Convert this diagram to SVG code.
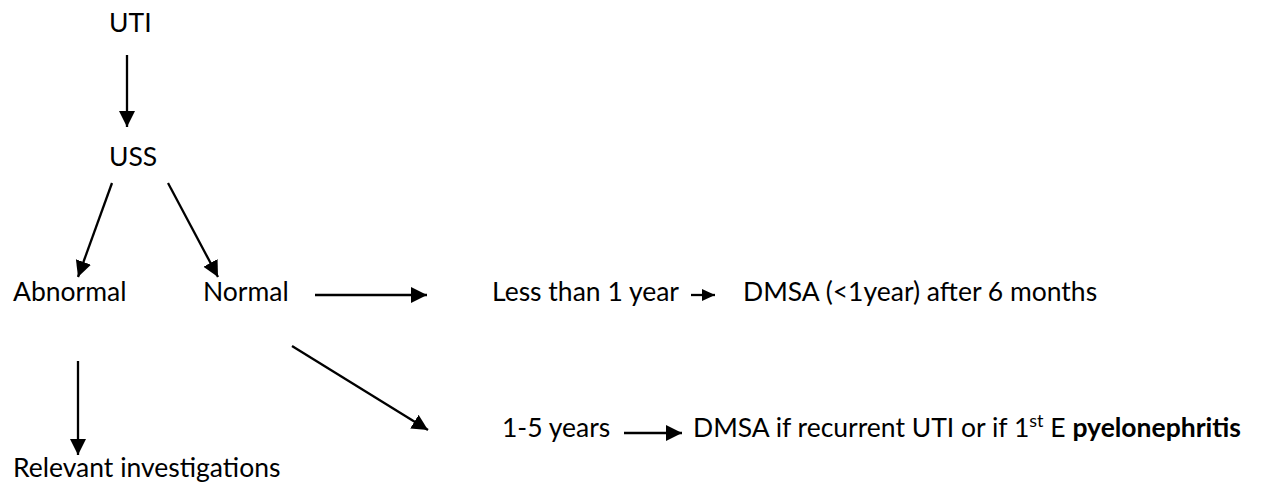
<svg xmlns="http://www.w3.org/2000/svg" width="1262" height="485" viewBox="0 0 1262 485">
<defs>
<style>
.t{font-family:Lato,"Open Sans","Liberation Sans",sans-serif;font-size:26.5px;fill:#000}
.b{font-weight:bold}
.c{stroke:#000;stroke-width:2.3;fill:none}
</style>
<marker id="ah" markerUnits="userSpaceOnUse" markerWidth="17" markerHeight="17" refX="16" refY="8.5" orient="auto">
<path d="M0,0.5 L16,8.5 L0,16.5 z" fill="#000"/>
</marker>
<marker id="ahs" markerUnits="userSpaceOnUse" markerWidth="14" markerHeight="13" refX="13" refY="6.5" orient="auto">
<path d="M0,0.5 L13,6.5 L0,12.5 z" fill="#000"/>
</marker>
</defs>
<rect width="1262" height="485" fill="#fff"/>
<g id="connectors">
<line class="c" x1="127" y1="55" x2="127" y2="127" marker-end="url(#ah)"/>
<line class="c" x1="112" y1="183" x2="78" y2="277" marker-end="url(#ah)"/>
<line class="c" x1="168" y1="183" x2="218" y2="277" marker-end="url(#ah)"/>
<line class="c" x1="315" y1="295" x2="427" y2="295" marker-end="url(#ah)"/>
<line class="c" x1="691" y1="295" x2="715" y2="295" marker-end="url(#ahs)"/>
<line class="c" x1="292" y1="346" x2="428" y2="430" marker-end="url(#ah)"/>
<line class="c" x1="78" y1="361" x2="78" y2="455" marker-end="url(#ah)"/>
<line class="c" x1="624" y1="433" x2="682" y2="433" marker-end="url(#ah)"/>
</g>
<g id="uti"><text class="t" x="109" y="32">UTI</text></g>
<g id="uss"><text class="t" x="109" y="166">USS</text></g>
<g id="abnormal"><text class="t" x="13" y="301">Abnormal</text></g>
<g id="normal"><text class="t" x="203" y="301">Normal</text></g>
<g id="less1"><text class="t" x="492" y="301">Less than 1 year</text></g>
<g id="dmsa1"><text class="t" x="743" y="301">DMSA (&lt;1year) after 6 months</text></g>
<g id="relevant"><text class="t" x="13" y="477">Relevant investigations</text></g>
<g id="y15"><text class="t" x="502" y="437">1-5 years</text></g>
<g id="dmsa2"><text class="t" x="693" y="437">DMSA if recurrent UTI or if 1<tspan dy="-10" font-size="18">st</tspan><tspan dy="10"> E </tspan><tspan class="b">pyelonephritis</tspan></text></g>
</svg>
